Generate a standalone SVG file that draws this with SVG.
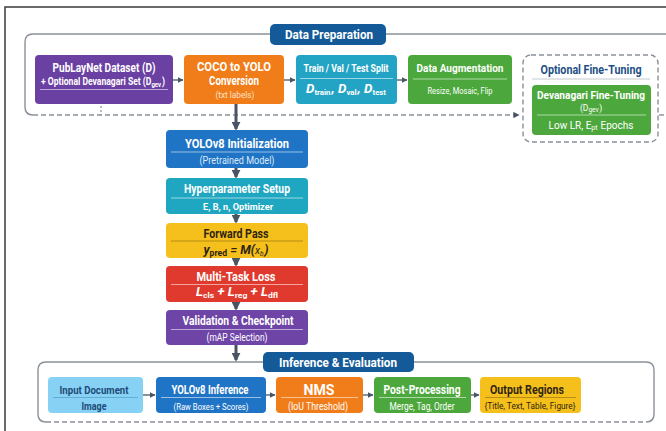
<svg xmlns="http://www.w3.org/2000/svg" width="666" height="431" viewBox="0 0 666 431">
<style>
text{font-family:Roboto,"Liberation Sans",sans-serif;text-anchor:middle;fill:#fff;font-weight:bold}
.sm{font-weight:normal}
.dk{fill:#2e2510}
.nv{fill:#1c4a78}
.sep{stroke:#fff;stroke-opacity:.55;stroke-width:1}
.frame{fill:none;stroke:#8a9099;stroke-width:1.4}
.dash{fill:none;stroke:#8a9099;stroke-width:1.4;stroke-dasharray:5,3}
.h{stroke:#4a5563;stroke-width:1.3;fill:none}
.v{stroke:#4a5563;stroke-width:3;fill:none}
.pill{fill:#145a98}
</style>
<defs>
<marker id="ah" viewBox="0 0 10 10" refX="9" refY="5" markerWidth="4.5" markerHeight="4.5" orient="auto"><path d="M0,0 L10,5 L0,10 z" fill="#4a5563"/></marker>
<marker id="av" viewBox="0 0 10 10" refX="8" refY="5" markerWidth="3" markerHeight="3" orient="auto"><path d="M0,0 L10,5 L0,10 z" fill="#4a5563"/></marker>
</defs>
<rect width="666" height="431" fill="#fff"/>
<rect x="5" y="7" width="700" height="460" fill="none" stroke="#3a3a3a" stroke-width="1.5"/>

<g id="data-prep-frame">
<path class="frame" d="M270,34 H33 Q25,34 25,42 V107 Q25,115 33,115"/>
<path class="frame" d="M386,34 H666"/>
<path class="dash" d="M33,115 H519" marker-end="url(#ah)"/>
<path class="dash" d="M659,115 H666"/>
<rect class="pill" x="270" y="24" width="116" height="21" rx="5"/>
<text x="329" y="39" font-size="12.5" textLength="88" lengthAdjust="spacingAndGlyphs">Data Preparation</text>
</g>

<g id="inference-frame">
<path class="frame" d="M263,362 H46 Q38,362 38,370 V414 Q38,422 46,422"/>
<path class="frame" d="M414,362 H646 Q654,362 654,370 V414 Q654,422 646,422"/>
<path class="dash" d="M46,422 H646"/>
<rect class="pill" x="263" y="352" width="151" height="20" rx="5"/>
<text x="338" y="366.5" font-size="12.5" textLength="118" lengthAdjust="spacingAndGlyphs">Inference &amp; Evaluation</text>
</g>

<g id="connectors">
<path class="h" d="M173,80 H183" marker-end="url(#ah)"/>
<path class="h" d="M284,80 H295" marker-end="url(#ah)"/>
<path class="h" d="M397,80 H407" marker-end="url(#ah)"/>
<path d="M101,106 V115" stroke="#8a9099" stroke-width="1.2" stroke-dasharray="2,2"/>
<path class="v" d="M236,104 V129" marker-end="url(#av)"/>
<path class="v" d="M236,168 V177" marker-end="url(#av)"/>
<path class="v" d="M236,214 V222" marker-end="url(#av)"/>
<path class="v" d="M236,258 V265" marker-end="url(#av)"/>
<path class="v" d="M236,302 V309" marker-end="url(#av)"/>
<path class="v" d="M236,345 V360" marker-end="url(#av)"/>
<path class="h" d="M143,395 H155" marker-end="url(#ah)"/>
<path class="h" d="M266,395 H275" marker-end="url(#ah)"/>
<path class="h" d="M363,395 H373" marker-end="url(#ah)"/>
<path class="h" d="M471,395 H479" marker-end="url(#ah)"/>
</g>

<g id="publaynet">
<rect x="35" y="55" width="138" height="49" rx="4" fill="#6b40a3"/>
<text x="104" y="72" font-size="12" textLength="103" lengthAdjust="spacingAndGlyphs">PubLayNet Dataset (D)</text>
<text transform="translate(103,85) scale(0.86,1)" font-size="10">+ Optional Devanagari Set (D<tspan font-size="7" dy="2">gev</tspan><tspan dy="-2" dx="1">)</tspan></text>
<line class="sep" x1="40" y1="89.5" x2="168" y2="89.5"/>
</g>

<g id="coco-yolo">
<rect x="184" y="55" width="100" height="49" rx="4" fill="#f07d1a"/>
<text x="234" y="71" font-size="12" textLength="74" lengthAdjust="spacingAndGlyphs">COCO to YOLO</text>
<text x="234" y="85" font-size="12" textLength="50" lengthAdjust="spacingAndGlyphs">Conversion</text>
<text x="235" y="98" font-size="9" class="sm" style="fill:#fde3c8" textLength="39" lengthAdjust="spacingAndGlyphs">(txt labels)</text>
</g>

<g id="split">
<rect x="296" y="55" width="101" height="49" rx="4" fill="#23a4c4"/>
<text x="346" y="72" font-size="10.5" textLength="85" lengthAdjust="spacingAndGlyphs">Train / Val / Test Split</text>
<line class="sep" x1="300" y1="78.5" x2="393" y2="78.5"/>
<text x="346" y="93" font-size="12" font-style="italic" textLength="80" lengthAdjust="spacingAndGlyphs">D<tspan font-size="7" dy="2" font-style="normal">train</tspan><tspan dy="-2" dx="1">, D</tspan><tspan font-size="7" dy="2" font-style="normal">val</tspan><tspan dy="-2" dx="1">, D</tspan><tspan font-size="7" dy="2" font-style="normal">test</tspan></text>
</g>

<g id="augmentation">
<rect x="408" y="55" width="104" height="49" rx="4" fill="#4ca83c"/>
<text x="460" y="72" font-size="11.5" textLength="87" lengthAdjust="spacingAndGlyphs">Data Augmentation</text>
<line class="sep" x1="413" y1="79" x2="507" y2="79"/>
<text x="460" y="93.5" font-size="9" class="sm" textLength="65" lengthAdjust="spacingAndGlyphs">Resize, Mosaic, Flip</text>
</g>

<g id="fine-tuning">
<rect x="523" y="55" width="135" height="87" rx="8" fill="#fff" class="dash"/>
<text x="591" y="74" font-size="12.5" style="fill:#1d4f85" textLength="101" lengthAdjust="spacingAndGlyphs">Optional Fine-Tuning</text>
<line x1="532" y1="79" x2="650" y2="79" stroke="#c4cad0" stroke-width="1"/>
<rect x="532" y="85" width="119" height="50" rx="4" fill="#4ca83c"/>
<text x="591" y="99" font-size="11" textLength="108" lengthAdjust="spacingAndGlyphs">Devanagari Fine-Tuning</text>
<text x="591" y="110.5" font-size="8.5" class="sm">(D<tspan font-size="6.5" dy="1.5">gev</tspan><tspan dy="-1.5" dx="0.5">)</tspan></text>
<line class="sep" x1="537" y1="115" x2="646" y2="115"/>
<text x="591" y="128.5" font-size="10" class="sm">Low LR, E<tspan font-size="7" dy="1.5">pt</tspan><tspan dy="-1.5" dx="3">Epochs</tspan></text>
</g>

<g id="yolo-init">
<rect x="166" y="130" width="142" height="38" rx="4" fill="#1f74c6"/>
<text x="237" y="147.5" font-size="12.5" textLength="104" lengthAdjust="spacingAndGlyphs">YOLOv8 Initialization</text>
<line class="sep" x1="171" y1="152" x2="303" y2="152"/>
<text x="237" y="164" font-size="10" class="sm" style="fill:#dce9f7" textLength="75" lengthAdjust="spacingAndGlyphs">(Pretrained Model)</text>
</g>

<g id="hyperparameters">
<rect x="166" y="178" width="142" height="36" rx="4" fill="#1fa7c1"/>
<text x="237" y="193" font-size="12" textLength="106" lengthAdjust="spacingAndGlyphs">Hyperparameter Setup</text>
<line class="sep" x1="171" y1="198" x2="303" y2="198"/>
<text x="238" y="209.5" font-size="9.5" textLength="70" lengthAdjust="spacingAndGlyphs">E, B, n, Optimizer</text>
</g>

<g id="forward-pass">
<rect x="166" y="223" width="142" height="35" rx="4" fill="#f6c01c"/>
<text x="236" y="237.5" font-size="12" class="dk" textLength="65" lengthAdjust="spacingAndGlyphs">Forward Pass</text>
<line x1="171" y1="241" x2="303" y2="241" stroke="#7a5a10" stroke-opacity=".5"/>
<text x="236" y="254" font-size="13" class="dk" font-style="italic" textLength="65" lengthAdjust="spacingAndGlyphs">y<tspan font-size="9" dy="2" font-style="normal">pred</tspan><tspan dy="-2"> = M(</tspan><tspan font-weight="normal" font-size="11">x</tspan><tspan font-size="7" dy="2" font-weight="normal">b</tspan><tspan dy="-2" dx="0.5">)</tspan></text>
</g>

<g id="multi-task-loss">
<rect x="166" y="266" width="142" height="36" rx="4" fill="#e0392d"/>
<text x="236" y="281" font-size="12" textLength="79" lengthAdjust="spacingAndGlyphs">Multi-Task Loss</text>
<line class="sep" x1="171" y1="284.5" x2="303" y2="284.5"/>
<text x="237" y="296" font-size="12.5" font-style="italic" textLength="82" lengthAdjust="spacingAndGlyphs">L<tspan font-size="8" dy="2" font-style="normal">cls</tspan><tspan dy="-2"> + L</tspan><tspan font-size="8" dy="2" font-style="normal">reg</tspan><tspan dy="-2"> + L</tspan><tspan font-size="8" dy="2" font-style="normal">dfl</tspan></text>
</g>

<g id="validation">
<rect x="166" y="310" width="142" height="35" rx="4" fill="#6e45a6"/>
<text x="238" y="325" font-size="12" textLength="111" lengthAdjust="spacingAndGlyphs">Validation &amp; Checkpoint</text>
<line class="sep" x1="171" y1="329.5" x2="303" y2="329.5"/>
<text x="237" y="341" font-size="10" class="sm" textLength="61" lengthAdjust="spacingAndGlyphs">(mAP Selection)</text>
</g>

<g id="input-document">
<rect x="48" y="377" width="95" height="36" rx="4" fill="#87d2f4"/>
<text x="94" y="394" font-size="11.5" class="nv" textLength="69" lengthAdjust="spacingAndGlyphs">Input Document</text>
<line x1="53" y1="397.5" x2="138" y2="397.5" stroke="#3f86b8" stroke-opacity=".5"/>
<text x="94" y="410" font-size="11.5" class="nv" textLength="25" lengthAdjust="spacingAndGlyphs">Image</text>
</g>

<g id="yolo-inference">
<rect x="156" y="377" width="110" height="36" rx="4" fill="#1f74c6"/>
<text x="210" y="394" font-size="12" textLength="77" lengthAdjust="spacingAndGlyphs">YOLOv8 Inference</text>
<line class="sep" x1="161" y1="397.5" x2="261" y2="397.5"/>
<text x="211" y="409.5" font-size="9.5" class="sm" textLength="75" lengthAdjust="spacingAndGlyphs">(Raw Boxes + Scores)</text>
</g>

<g id="nms">
<rect x="276" y="377" width="87" height="36" rx="4" fill="#f07d1a"/>
<text x="319" y="394.5" font-size="14.5" textLength="31" lengthAdjust="spacingAndGlyphs">NMS</text>
<line class="sep" x1="281" y1="397.5" x2="358" y2="397.5"/>
<text x="318" y="409.5" font-size="10" class="sm" textLength="60" lengthAdjust="spacingAndGlyphs">(IoU Threshold)</text>
</g>

<g id="post-processing">
<rect x="374" y="377" width="97" height="36" rx="4" fill="#4ca83c"/>
<text x="422" y="394" font-size="12.5" textLength="77" lengthAdjust="spacingAndGlyphs">Post-Processing</text>
<line class="sep" x1="379" y1="397.5" x2="466" y2="397.5"/>
<text x="422" y="409.5" font-size="10" class="sm" textLength="65" lengthAdjust="spacingAndGlyphs">Merge, Tag, Order</text>
</g>

<g id="output-regions">
<rect x="480" y="377" width="101" height="36" rx="4" fill="#f6c01c"/>
<text x="527" y="394" font-size="12" class="dk" textLength="74" lengthAdjust="spacingAndGlyphs">Output Regions</text>
<line x1="485" y1="397.5" x2="576" y2="397.5" stroke="#7a5a10" stroke-opacity=".5"/>
<text x="530" y="409" font-size="9.5" class="sm dk" textLength="91" lengthAdjust="spacingAndGlyphs">{Title, Text, Table, Figure}</text>
</g>
</svg>
